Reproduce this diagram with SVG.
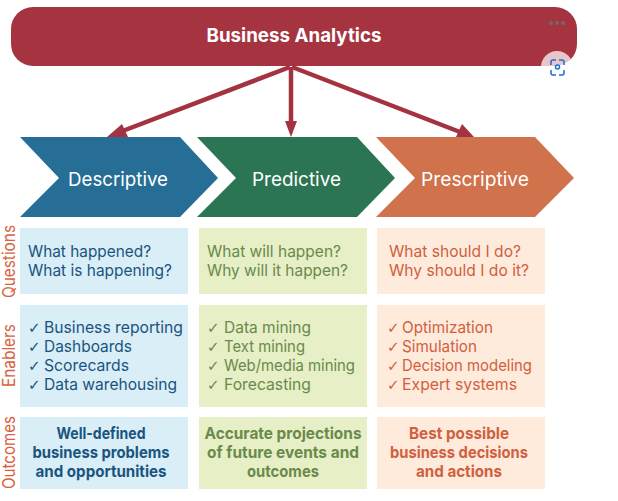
<svg xmlns="http://www.w3.org/2000/svg" width="618" height="501" viewBox="0 0 618 501">
<style>
text{font-family:"Inter","Noto Sans","Liberation Sans",sans-serif;font-size:16.5px}
.h{font-size:19px;font-weight:700;fill:#fff}
.c{font-size:19px;fill:#fff}
.side{font-size:17px;fill:#d8623f}
.b{fill:#1a5480}.g{fill:#6a8a4c}.o{fill:#d0603f}
.k{font-family:"DejaVu Sans",sans-serif;font-size:15px}
.m{text-anchor:middle;font-weight:700}
.pb{fill:#d9eef6}.pg{fill:#e6efc6}.po{fill:#ffebdc}
.conn{stroke:#a33340;stroke-width:4.500;fill:none}
</style>
<rect width="618" height="501" fill="#fff"/>
<g id="business-analytics">
<rect x="11" y="7" width="566" height="59" rx="22" fill="#a63440"/>
<text class="h" x="294" y="42" text-anchor="middle" textLength="175" lengthAdjust="spacingAndGlyphs">Business Analytics</text>
</g>
<g id="connectors">
<line class="conn" x1="290" y1="67" x2="120" y2="132"/>
<polygon points="107,137 122,124 128,137" fill="#a33340"/>
<line class="conn" x1="291" y1="67" x2="291" y2="124"/>
<polygon points="291,137 285,121 297,121" fill="#a33340"/>
<line class="conn" x1="292" y1="67" x2="460" y2="132"/>
<polygon points="474,137 456,137 462,124" fill="#a33340"/>
</g>
<g id="descriptive">
<polygon points="20,137 180,137 218,178 180,217 20,217 59,178" fill="#266e96"/>
<text class="c" x="68" y="186" textLength="100" lengthAdjust="spacingAndGlyphs">Descriptive</text>
</g>
<g id="predictive">
<polygon points="197,137 357,137 395,178 357,217 197,217 236,178" fill="#2b7554"/>
<text class="c" x="252" y="186" textLength="89" lengthAdjust="spacingAndGlyphs">Predictive</text>
</g>
<g id="prescriptive">
<polygon points="376,137 535,137 574,178 535,217 376,217 415,178" fill="#d0724c"/>
<text class="c" x="421" y="186" textLength="108" lengthAdjust="spacingAndGlyphs">Prescriptive</text>
</g>
<g id="row-labels">
<text class="side" transform="translate(15,298) rotate(-90)" textLength="73" lengthAdjust="spacingAndGlyphs">Questions</text>
<text class="side" transform="translate(15,387) rotate(-90)" textLength="63" lengthAdjust="spacingAndGlyphs">Enablers</text>
<text class="side" transform="translate(15,489) rotate(-90)" textLength="73" lengthAdjust="spacingAndGlyphs">Outcomes</text>
</g>
<g id="descriptive-questions">
<rect class="pb" x="20" y="228" width="168" height="66"/>
<text class="b" x="28" y="257" textLength="123" lengthAdjust="spacingAndGlyphs">What happened?</text>
<text class="b" x="28" y="276" textLength="144" lengthAdjust="spacingAndGlyphs">What is happening?</text>
</g>
<g id="predictive-questions">
<rect class="pg" x="199" y="228" width="168" height="66"/>
<text class="g" x="207" y="257" textLength="134" lengthAdjust="spacingAndGlyphs">What will happen?</text>
<text class="g" x="207" y="276" textLength="141" lengthAdjust="spacingAndGlyphs">Why will it happen?</text>
</g>
<g id="prescriptive-questions">
<rect class="po" x="377" y="228" width="168" height="66"/>
<text class="o" x="389" y="257" textLength="132" lengthAdjust="spacingAndGlyphs">What should I do?</text>
<text class="o" x="389" y="276" textLength="140" lengthAdjust="spacingAndGlyphs">Why should I do it?</text>
</g>
<g id="descriptive-enablers">
<rect class="pb" x="20" y="305" width="168" height="102"/>
<text class="b k" x="28" y="333">✓</text><text class="b" x="44" y="333" textLength="139" lengthAdjust="spacingAndGlyphs">Business reporting</text>
<text class="b k" x="28" y="352">✓</text><text class="b" x="44" y="352" textLength="88" lengthAdjust="spacingAndGlyphs">Dashboards</text>
<text class="b k" x="28" y="371">✓</text><text class="b" x="44" y="371" textLength="85" lengthAdjust="spacingAndGlyphs">Scorecards</text>
<text class="b k" x="28" y="390">✓</text><text class="b" x="44" y="390" textLength="133" lengthAdjust="spacingAndGlyphs">Data warehousing</text>
</g>
<g id="predictive-enablers">
<rect class="pg" x="199" y="305" width="168" height="102"/>
<text class="g k" x="207" y="333">✓</text><text class="g" x="224" y="333" textLength="87" lengthAdjust="spacingAndGlyphs">Data mining</text>
<text class="g k" x="207" y="352">✓</text><text class="g" x="224" y="352" textLength="81" lengthAdjust="spacingAndGlyphs">Text mining</text>
<text class="g k" x="207" y="371">✓</text><text class="g" x="224" y="371" textLength="131" lengthAdjust="spacingAndGlyphs">Web/media mining</text>
<text class="g k" x="207" y="390">✓</text><text class="g" x="224" y="390" textLength="87" lengthAdjust="spacingAndGlyphs">Forecasting</text>
</g>
<g id="prescriptive-enablers">
<rect class="po" x="377" y="305" width="168" height="102"/>
<text class="o k" x="387" y="333">✓</text><text class="o" x="402" y="333" textLength="91" lengthAdjust="spacingAndGlyphs">Optimization</text>
<text class="o k" x="387" y="352">✓</text><text class="o" x="402" y="352" textLength="75" lengthAdjust="spacingAndGlyphs">Simulation</text>
<text class="o k" x="387" y="371">✓</text><text class="o" x="402" y="371" textLength="130" lengthAdjust="spacingAndGlyphs">Decision modeling</text>
<text class="o k" x="387" y="390">✓</text><text class="o" x="402" y="390" textLength="115" lengthAdjust="spacingAndGlyphs">Expert systems</text>
</g>
<g id="descriptive-outcomes">
<rect class="pb" x="20" y="417" width="168" height="72"/>
<text class="b m" x="101" y="439" textLength="89" lengthAdjust="spacingAndGlyphs">Well-defined</text>
<text class="b m" x="101" y="458" textLength="137" lengthAdjust="spacingAndGlyphs">business problems</text>
<text class="b m" x="101" y="477" textLength="131" lengthAdjust="spacingAndGlyphs">and opportunities</text>
</g>
<g id="predictive-outcomes">
<rect class="pg" x="199" y="417" width="168" height="72"/>
<text class="g m" x="283" y="439" textLength="157" lengthAdjust="spacingAndGlyphs">Accurate projections</text>
<text class="g m" x="283" y="458" textLength="152" lengthAdjust="spacingAndGlyphs">of future events and</text>
<text class="g m" x="283" y="477" textLength="72" lengthAdjust="spacingAndGlyphs">outcomes</text>
</g>
<g id="prescriptive-outcomes">
<rect class="po" x="377" y="417" width="168" height="72"/>
<text class="o m" x="459" y="439" textLength="100" lengthAdjust="spacingAndGlyphs">Best possible</text>
<text class="o m" x="459" y="458" textLength="138" lengthAdjust="spacingAndGlyphs">business decisions</text>
<text class="o m" x="459" y="477" textLength="86" lengthAdjust="spacingAndGlyphs">and actions</text>
</g>
<g id="viewer-overlay">
<circle cx="551" cy="23" r="2" fill="#77666a"/><circle cx="557" cy="23" r="2" fill="#77666a"/><circle cx="563" cy="23" r="2" fill="#77666a"/>
<circle cx="557" cy="67" r="16" fill="#fff" fill-opacity=".72"/>
<path d="M551 65v-3a2 2 0 0 1 2-2h3M559 60h3a2 2 0 0 1 2 2v3M551 70v3a2 2 0 0 0 2 2h3M559 75h3a2 2 0 0 0 2-2v-3" fill="none" stroke="#1a6fd0" stroke-width="1.500"/>
<circle cx="557.500" cy="67" r="2" fill="none" stroke="#1a6fd0" stroke-width="1.500"/>
</g>
</svg>
